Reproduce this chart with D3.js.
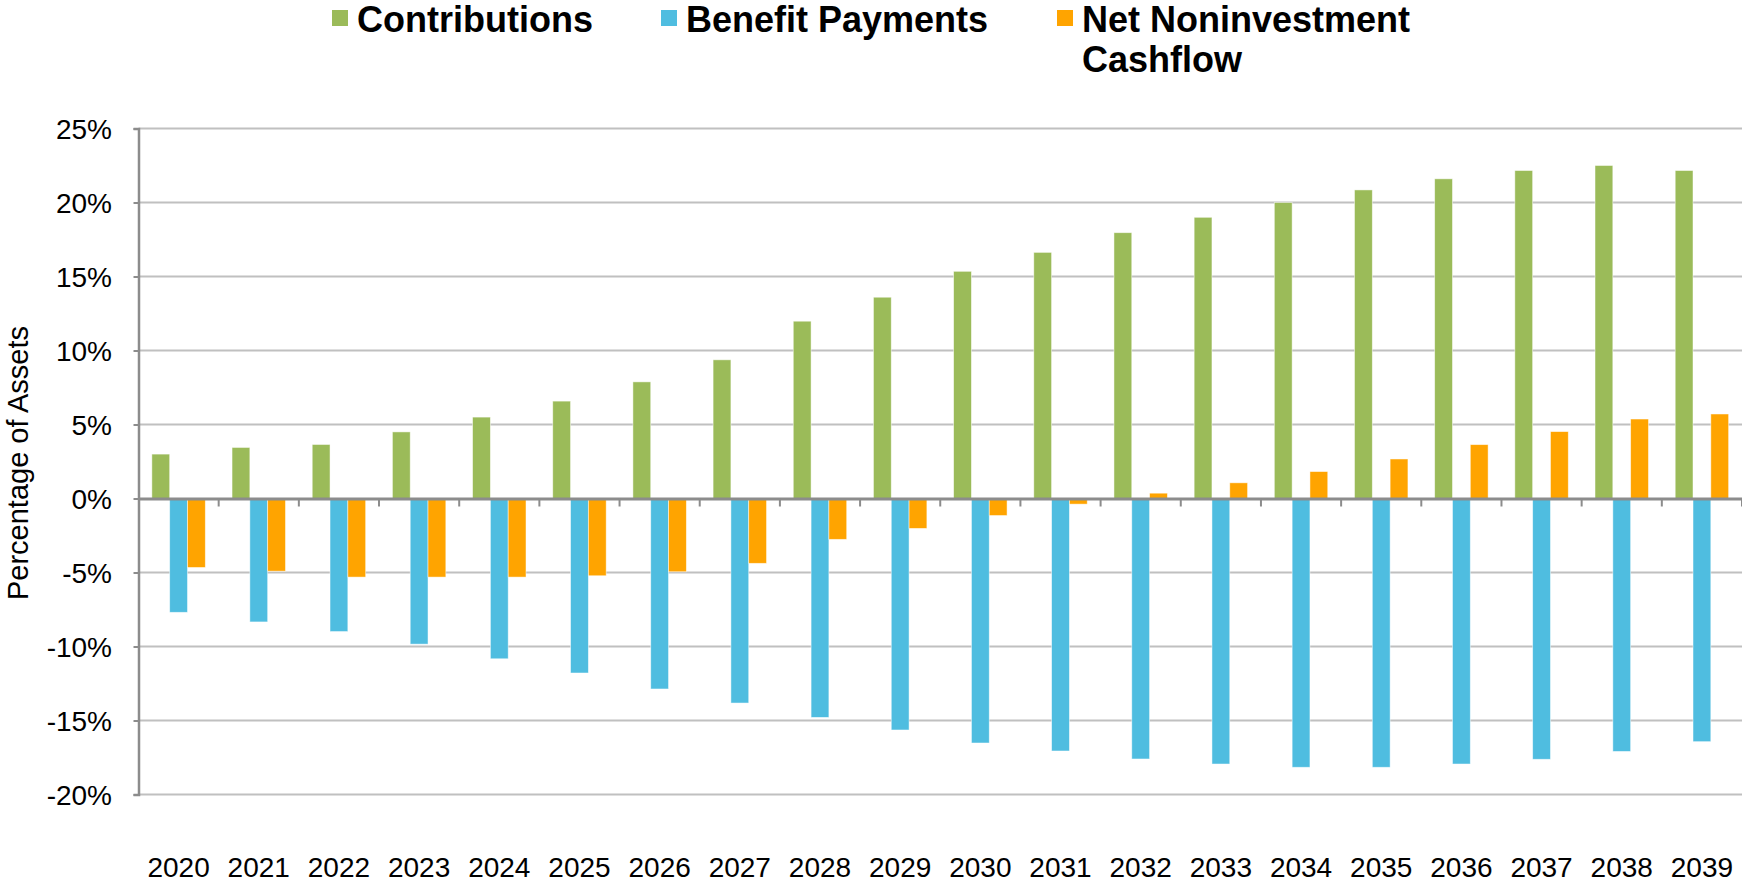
<!DOCTYPE html>
<html lang="en">
<head>
    <meta charset="UTF-8">
    <title>Contributions vs Benefit Payments</title>
    <script type="text/javascript" src="https://d3js.org/d3.v7.min.js"></script>
    <style>
      body { margin: 0; background: #fff; }
      text { font-family: "Liberation Sans", Arial, sans-serif; fill: #000; }
    </style>
    <script type="text/javascript">
      // Datos del gráfico (porcentaje de activos)
      var anios = ["2020","2021","2022","2023","2024","2025","2026","2027","2028","2029",
                   "2030","2031","2032","2033","2034","2035","2036","2037","2038","2039"];
      var contribuciones = [3.0, 3.45, 3.65, 4.5, 5.5, 6.58, 7.88, 9.37, 11.98, 13.6,
                            15.35, 16.63, 17.96, 19.0, 20.0, 20.85, 21.6, 22.16, 22.5, 22.16];
      var pagos = [-7.69, -8.34, -8.99, -9.84, -10.83, -11.79, -12.87, -13.82, -14.79, -15.64,
                   -16.52, -17.06, -17.6, -17.94, -18.16, -18.16, -17.94, -17.62, -17.09, -16.43];
      var neto = [-4.66, -4.91, -5.31, -5.31, -5.31, -5.22, -4.95, -4.38, -2.76, -2.02,
                  -1.15, -0.38, 0.36, 1.06, 1.82, 2.67, 3.64, 4.52, 5.37, 5.71];
      var series = ["Contributions", "Benefit Payments", "Net Noninvestment Cashflow"];
      var colores = ["#9bbb59", "#4fbde0", "#ffa400"];
      var ticksY = [-20, -15, -10, -5, 0, 5, 10, 15, 20, 25];

      function diagrama(){

      // Contenedor SVG
        var ancho = 1742, alto = 887;
        var izq = 138.5, der = 1742, arriba = 128.5, abajo = 794.5;

        var svg = d3.select("body")
                    .append("svg")
                    .attr("width", ancho)
                    .attr("height", alto);

      // Escalas
        var escalaX = d3.scaleBand()
                        .domain(anios)
                        .range([izq, der])
                        .padding(0);
        var escalaSerie = d3.scaleBand()
                        .domain(series)
                        .range([0, escalaX.bandwidth()])
                        .paddingInner(0)
                        .paddingOuter(0.75);
        var escalaY = d3.scaleLinear()
                        .domain([-20, 25])
                        .range([abajo, arriba]);

      // Líneas de la cuadrícula
        svg.append("g")
           .selectAll("line")
           .data(ticksY.filter(function(d){ return d !== 0; }))
           .enter()
           .append("line")
           .attr("x1", izq).attr("x2", der)
           .attr("y1", function(d){ return escalaY(d); })
           .attr("y2", function(d){ return escalaY(d); })
           .attr("stroke", "#c0c0c0")
           .attr("stroke-width", 2.2);

      // Barras: una fila de datos por serie
        var filas = [contribuciones, pagos, neto];
        series.forEach(function(s, k){
          svg.append("g")
             .selectAll("rect")
             .data(filas[k])
             .enter()
             .append("rect")
             .attr("x", function(d, i){ return escalaX(anios[i]) + escalaSerie(s); })
             .attr("y", function(d){ return escalaY(Math.max(0, d)); })
             .attr("width", escalaSerie.bandwidth())
             .attr("height", function(d){ return Math.abs(escalaY(d) - escalaY(0)); })
             .attr("fill", colores[k])
             .attr("stroke", "#ffffff")
             .attr("stroke-opacity", 0.6)
             .attr("stroke-width", 0.8);
        });

      // Eje Y con etiquetas en porcentaje
        var ejeY = d3.axisLeft(escalaY)
                     .tickValues(ticksY)
                     .tickSize(5)
                     .tickFormat(function(d){ return d + "%"; });
        var gY = svg.append("g")
                    .attr("transform", "translate(" + izq + ",0)")
                    .call(ejeY);
        gY.select(".domain").attr("stroke", "#8c8c8c").attr("stroke-width", 2.5);
        gY.selectAll(".tick line").attr("stroke", "#8c8c8c").attr("stroke-width", 2);
        gY.selectAll(".tick text")
          .attr("x", -26.5)
          .attr("dy", "0.36em")
          .style("font-size", "28px")
          .style("font-family", "'Liberation Sans', Arial, sans-serif")
          .attr("fill", "#000");

      // Eje X en la línea del cero
        var ejeX = d3.axisBottom(escalaX)
                     .tickSize(0)
                     .tickFormat("");
        var gX = svg.append("g")
                    .attr("transform", "translate(0," + escalaY(0) + ")")
                    .call(ejeX);
        gX.select(".domain").attr("stroke", "#8c8c8c").attr("stroke-width", 2.8);
        gX.selectAll(".tick").remove();

      // Marcas entre categorías
        svg.append("g")
           .selectAll("line")
           .data(anios)
           .enter()
           .append("line")
           .attr("x1", function(d){ return escalaX(d) + escalaX.bandwidth(); })
           .attr("x2", function(d){ return escalaX(d) + escalaX.bandwidth(); })
           .attr("y1", escalaY(0))
           .attr("y2", escalaY(0) + 8)
           .attr("stroke", "#8c8c8c")
           .attr("stroke-width", 2);

      // Etiquetas de años al pie
        svg.append("g")
           .selectAll("text")
           .data(anios)
           .enter()
           .append("text")
           .text(function(d){ return d; })
           .attr("x", function(d){ return escalaX(d) + escalaX.bandwidth() / 2; })
           .attr("y", 877)
           .attr("text-anchor", "middle")
           .style("font-size", "28px");

      // Título del eje Y
        svg.append("text")
           .text("Percentage of Assets")
           .attr("transform", "translate(28,463) rotate(-90)")
           .attr("text-anchor", "middle")
           .style("font-size", "29px");

      // Leyenda
        var leyenda = [
          { x: 332, lineas: ["Contributions"] },
          { x: 661, lineas: ["Benefit Payments"] },
          { x: 1057, lineas: ["Net Noninvestment", "Cashflow"] }
        ];
        var gL = svg.append("g");
        leyenda.forEach(function(l, k){
          gL.append("rect")
            .attr("x", l.x).attr("y", 10)
            .attr("width", 16).attr("height", 16)
            .attr("fill", colores[k]);
          var t = gL.append("text")
                    .attr("x", l.x + 25)
                    .attr("y", 32)
                    .style("font-size", "36px")
                    .style("font-weight", "bold");
          l.lineas.forEach(function(linea, j){
            t.append("tspan")
             .attr("x", l.x + 25)
             .attr("dy", j === 0 ? 0 : 40)
             .text(linea);
          });
        });
      };
    </script>
</head>
<body onload="diagrama()">

</body>
</html>
